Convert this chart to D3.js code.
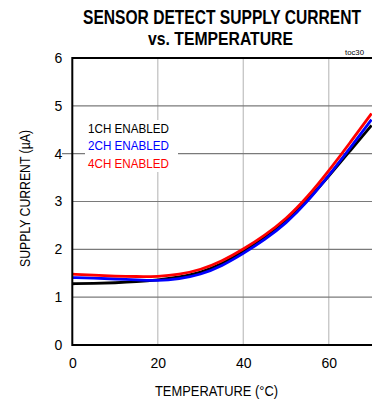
<!DOCTYPE html>
<html>
<head>
<meta charset="utf-8">
<script src="https://cdn.jsdelivr.net/npm/d3@7.9.0/dist/d3.min.js"></script>
<style>
  body { margin: 0; background: #fff; }
  svg { display: block; font-family: "Liberation Sans", Arial, sans-serif; }
</style>
</head>
<body>
<svg id="chart" width="372" height="402"></svg>
<script>
const temps = [0, 5, 10, 15, 20, 25, 30, 35, 40, 45, 50, 55, 60, 65, 70];
const ch1 = [1.28, 1.29, 1.30, 1.32, 1.36, 1.42, 1.51, 1.69, 1.95, 2.24, 2.58, 3.02, 3.53, 4.06, 4.59];
const ch2 = [1.41, 1.40, 1.38, 1.36, 1.34, 1.38, 1.47, 1.65, 1.91, 2.20, 2.54, 2.99, 3.54, 4.12, 4.71];
const ch4 = [1.48, 1.46, 1.44, 1.43, 1.43, 1.47, 1.57, 1.75, 2.00, 2.29, 2.63, 3.09, 3.64, 4.23, 4.84];
const xTicks = [0, 20, 40, 60];
const yTicks = [0, 1, 2, 3, 4, 5, 6];
const series = [
  { label: "1CH ENABLED", values: ch1, color: "#000000" },
  { label: "2CH ENABLED", values: ch2, color: "#0000ff" },
  { label: "4CH ENABLED", values: ch4, color: "#ff0000" }
];

const svg = d3.select("#chart");
const x = d3.scaleLinear().domain([0, 70]).range([72.3, 371.5]);
const y = d3.scaleLinear().domain([0, 6]).range([345, 58]);

// grid
svg.append("g").selectAll("line").data(xTicks.slice(1)).join("line")
  .attr("x1", d => x(d)).attr("x2", d => x(d))
  .attr("y1", y(6)).attr("y2", y(0))
  .attr("stroke", "#c4c4c4").attr("stroke-width", 1.3);
svg.append("g").selectAll("line").data(yTicks.slice(1, -1)).join("line")
  .attr("x1", d => d === 4 ? 62 : x(0)).attr("x2", 372)
  .attr("y1", d => y(d)).attr("y2", d => y(d))
  .attr("stroke", "#7a7a7a").attr("stroke-width", 1.2);

// legend backdrop
svg.append("rect").attr("x", 85).attr("y", 120).attr("width", 93).attr("height", 52).attr("fill", "#fff");

// curves
const line = d3.line().x((d, i) => x(temps[i])).y(d => y(d)).curve(d3.curveBasis);
svg.append("g").selectAll("path").data(series).join("path")
  .attr("d", d => line(d.values))
  .attr("fill", "none").attr("stroke", d => d.color).attr("stroke-width", 2.8);

// frame
svg.append("line").attr("x1", x(0)).attr("x2", 372).attr("y1", y(6)).attr("y2", y(6)).attr("stroke", "#000").attr("stroke-width", 2);
svg.append("line").attr("x1", x(0)).attr("x2", 372).attr("y1", y(0)).attr("y2", y(0)).attr("stroke", "#000").attr("stroke-width", 2);
svg.append("line").attr("x1", x(0)).attr("x2", x(0)).attr("y1", y(6) - 1).attr("y2", y(0) + 1).attr("stroke", "#000").attr("stroke-width", 2);

// axes labels
const xAxis = svg.append("g").attr("transform", `translate(0,${y(0)})`)
  .call(d3.axisBottom(x).tickValues(xTicks).tickSize(0).tickPadding(13).tickFormat(d3.format("d")));
const yAxis = svg.append("g").attr("transform", `translate(${x(0) - 10},0)`)
  .call(d3.axisLeft(y).tickValues(yTicks).tickSize(0).tickPadding(0).tickFormat(d3.format("d")));
[xAxis, yAxis].forEach(a => {
  a.select(".domain").remove();
  a.selectAll("text").attr("font-size", 14).attr("font-family", "Liberation Sans, Arial, sans-serif").attr("fill", "#000");
});

// legend text
svg.append("g").selectAll("text").data(series).join("text")
  .attr("x", 88).attr("y", (d, i) => 132.5 + i * 17.5)
  .attr("font-size", 13.5).attr("fill", d => d.color)
  .attr("textLength", 81).attr("lengthAdjust", "spacingAndGlyphs")
  .text(d => d.label);

// titles (condensed bold)
svg.append("text").attr("transform", "translate(222,23.5) scale(0.78,1)")
  .attr("text-anchor", "middle").attr("font-size", 20).attr("font-weight", "bold")
  .text("SENSOR DETECT SUPPLY CURRENT");
svg.append("text").attr("transform", "translate(220.5,45) scale(0.83,1)")
  .attr("text-anchor", "middle").attr("font-size", 19).attr("font-weight", "bold")
  .text("vs. TEMPERATURE");
svg.append("text").attr("x", 345).attr("y", 55).attr("font-size", 8).attr("textLength", 19)
  .attr("lengthAdjust", "spacingAndGlyphs").text("toc30");

svg.append("text").attr("x", 155).attr("y", 396).attr("font-size", 14)
  .attr("textLength", 123).attr("lengthAdjust", "spacingAndGlyphs").text("TEMPERATURE (°C)");
svg.append("text").attr("transform", "translate(30,267) rotate(-90)").attr("font-size", 14)
  .attr("textLength", 137).attr("lengthAdjust", "spacingAndGlyphs").text("SUPPLY CURRENT (µA)");
</script>
</body>
</html>
